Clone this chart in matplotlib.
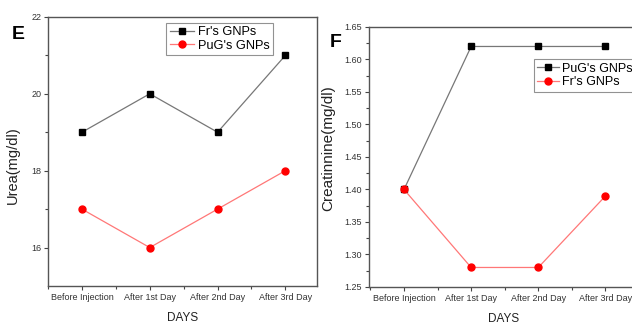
import matplotlib
matplotlib.use("Agg")
import matplotlib.pyplot as plt
from matplotlib.ticker import MultipleLocator, FixedLocator

plt.rcParams['font.family'] = ['Liberation Sans', 'DejaVu Sans']

categories = ["Before Injection", "After 1st Day", "After 2nd Day", "After 3rd Day"]
urea_fr = [19, 20, 19, 21]
urea_pug = [17, 16, 17, 18]
creat_pug = [1.40, 1.62, 1.62, 1.62]
creat_fr = [1.40, 1.28, 1.28, 1.39]

fig = plt.figure(figsize=(6.32, 3.25), dpi=100)
axE = fig.add_axes([0.076, 0.12, 0.426, 0.828])
axF = fig.add_axes([0.584, 0.117, 0.425, 0.800])

x = list(range(len(categories)))

def style(ax):
    for s in ax.spines.values():
        s.set_color('#555555')
        s.set_linewidth(1.0)
    ax.tick_params(axis='both', which='major', direction='out', length=3, width=0.8,
                   color='#444444', labelsize=6.5, pad=2)
    ax.tick_params(axis='both', which='minor', direction='out', length=2, width=0.8,
                   color='#444444')
    ax.set_xticks(x)
    ax.set_xticklabels(categories, fontsize=6.5, color='#333333')
    ax.xaxis.set_minor_locator(FixedLocator([-0.5, 0.5, 1.5, 2.5, 3.5]))
    for lab in ax.get_yticklabels():
        lab.set_color('#333333')

# Panel E
axE.plot(x, urea_fr, color='#777777', lw=0.9, marker='s', ms=4.5, mfc='black', mec='black', label="Fr's GNPs")
axE.plot(x, urea_pug, color='#ff7777', lw=0.9, marker='o', ms=5, mfc='red', mec='red', label="PuG's GNPs")
axE.set_xlim(-0.5, 3.47)
axE.set_ylim(15, 22)
axE.yaxis.set_major_locator(FixedLocator([16, 18, 20, 22]))
axE.yaxis.set_minor_locator(FixedLocator([17, 19, 21]))
style(axE)
axE.set_ylabel("Urea(mg/dl)", fontsize=10.5, color='#222222')
axE.yaxis.set_label_coords(-0.105, 0.45)
axE.set_xlabel("DAYS", fontsize=8.5, labelpad=7, color='#222222')
legE = axE.legend(loc='upper left', bbox_to_anchor=(0.44, 0.978), fontsize=9.2, frameon=True,
                  fancybox=False, edgecolor='#777777', handlelength=1.9, handletextpad=0.3,
                  borderpad=0.25, labelspacing=0.15, borderaxespad=0)
legE.get_frame().set_linewidth(0.8)
fig.text(0.018, 0.895, "E", fontsize=14, fontweight='bold', ha='left', va='center')

# Panel F
axF.plot(x, creat_pug, color='#777777', lw=0.9, marker='s', ms=4.5, mfc='black', mec='black', label="PuG's GNPs")
axF.plot(x, creat_fr, color='#ff7777', lw=0.9, marker='o', ms=5, mfc='red', mec='red', label="Fr's GNPs")
axF.set_xlim(-0.52, 3.48)
axF.set_ylim(1.25, 1.65)
axF.yaxis.set_major_locator(MultipleLocator(0.05))
axF.yaxis.set_minor_locator(MultipleLocator(0.025))
axF.yaxis.set_major_formatter(matplotlib.ticker.FormatStrFormatter('%.2f'))
style(axF)
axF.set_ylabel("Creatinnine(mg/dl)", fontsize=11, color='#222222')
axF.yaxis.set_label_coords(-0.125, 0.535)
axF.set_xlabel("DAYS", fontsize=8.5, labelpad=7, color='#222222')
legF = axF.legend(loc='upper left', bbox_to_anchor=(0.615, 0.875), fontsize=9.0, frameon=True,
                  fancybox=False, edgecolor='#777777', handlelength=1.7, handletextpad=0.3,
                  borderpad=0.25, labelspacing=0.15, borderaxespad=0)
legF.get_frame().set_linewidth(0.8)
fig.text(0.522, 0.868, "F", fontsize=14, fontweight='bold', ha='left', va='center')

fig.savefig("out.png", dpi=100)
